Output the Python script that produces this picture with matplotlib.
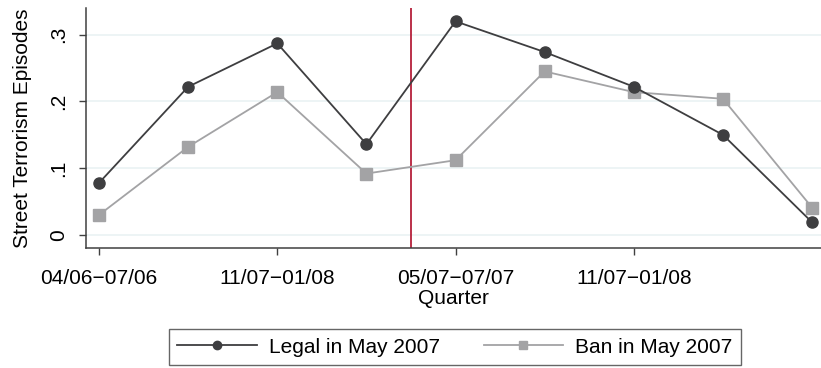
import matplotlib
matplotlib.use("Agg")
import matplotlib.pyplot as plt
import numpy as np

plt.rcParams['font.family'] = ['Liberation Sans', 'DejaVu Sans']

quarters = np.arange(9)
tick_pos = [0, 2, 4, 6]
tick_labels = ['04/06\u221207/06', '11/07\u221201/08', '05/07\u221207/07', '11/07\u221201/08']
legal = [0.078, 0.222, 0.287, 0.136, 0.320, 0.274, 0.222, 0.150, 0.019]
ban = [0.030, 0.132, 0.214, 0.092, 0.112, 0.245, 0.214, 0.204, 0.041]
ban_start = 3.5

fig = plt.figure(figsize=(8.21, 3.68), dpi=100)
ax = fig.add_axes([86 / 821, 1 - 248 / 368, 735 / 821, 240 / 368])

for y in [0, 0.1, 0.2, 0.3]:
    ax.axhline(y, color='#eaf2f3', lw=1.2, zorder=0)

ax.plot(quarters, legal, '-o', color='#3e3e40', lw=1.3, ms=8,
        label='Legal in May 2007', zorder=3)
ax.plot(quarters, ban, '-s', color='#a3a3a5', lw=1.3, ms=8,
        label='Ban in May 2007', zorder=2)
ax.axvline(ban_start, color='#b5203a', lw=1.3, zorder=1)

ax.set_xlim(-0.146, 8.1)
ax.set_ylim(-0.0195, 0.34)
ax.set_xticks(tick_pos)
ax.set_xticklabels(tick_labels)
ax.set_yticks([0, 0.1, 0.2, 0.3])
ax.set_yticklabels(['0', '.1', '.2', '.3'], rotation=90, va='center')
ax.tick_params(labelsize=15, length=5, width=1, color='#404040')
ax.tick_params(axis='x', pad=10)
ax.tick_params(axis='y', pad=8)

for side in ['top', 'right']:
    ax.spines[side].set_visible(False)
for side in ['left', 'bottom']:
    ax.spines[side].set_color('#404040')
    ax.spines[side].set_linewidth(1.1)

ax.set_xlabel('Quarter', fontsize=15, labelpad=1)
ax.set_ylabel('Street Terrorism Episodes', fontsize=15, labelpad=12)

leg = fig.legend(loc='lower center', bbox_to_anchor=(455 / 821, 3 / 368),
                 ncol=2, fontsize=15, frameon=True, fancybox=False,
                 edgecolor='#404040', handlelength=3.8, markerscale=0.75,
                 columnspacing=2.1, borderpad=0.4, handletextpad=0.6,
                 borderaxespad=0)
leg.get_frame().set_linewidth(1.0)

fig.savefig('out.png', dpi=100)
